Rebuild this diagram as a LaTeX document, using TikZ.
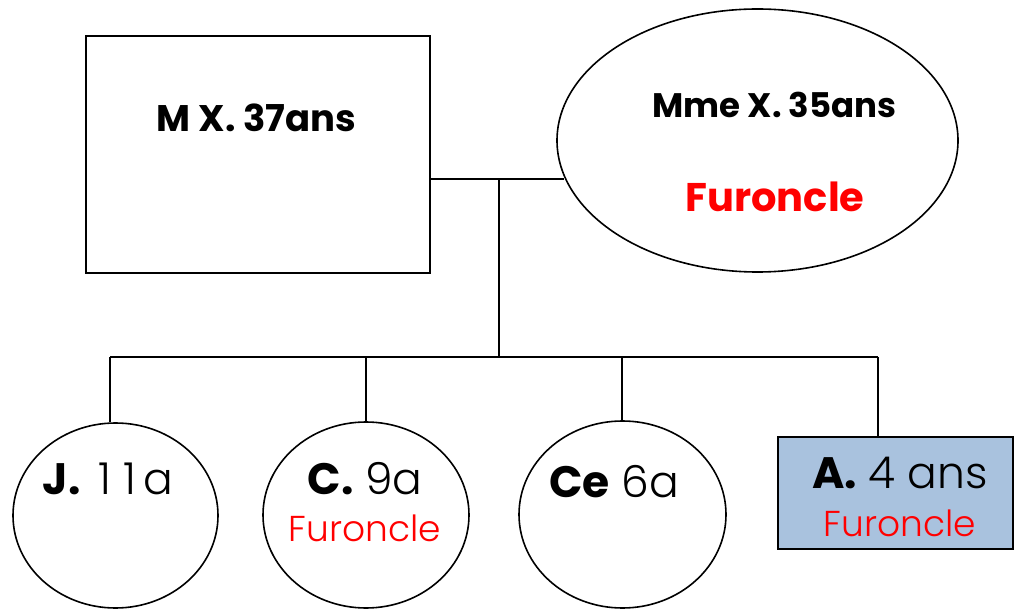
\documentclass[tikz,border=0pt]{standalone}
\usepackage{fontspec}
\setmainfont{Poppins}
\newfontfamily\lightface{Poppins Light}
\usetikzlibrary{shapes.geometric}
\definecolor{furred}{RGB}{255,0,0}
\definecolor{cellblue}{RGB}{169,194,222}
\tikzset{
  conn/.style={draw=black, line width=1.6pt},
  boxshape/.style={draw=black, line width=1.6pt, rectangle, inner sep=0pt},
  ovalshape/.style={draw=black, line width=1.6pt, ellipse, inner sep=0pt},
  lbl/.style={anchor=base, inner sep=0pt},
}
\begin{document}
\begin{tikzpicture}[x=1pt,y=-1pt]
\useasboundingbox (0,0) rectangle (1015,609);
% parents
\node[boxshape, minimum width=344pt, minimum height=237pt] (father) at (258,154.5) {};
\node[ovalshape, minimum width=401pt, minimum height=263pt] (mother) at (757.5,140.5) {};
\node[lbl, font=\fontsize{37}{40}\selectfont\bfseries] (ftext) at (256.5,132) {M X. 37ans};
\node[lbl, font=\fontsize{34}{36}\selectfont\bfseries] (mtext) at (774.5,118) {Mme X. 35ans};
\node[lbl, font=\fontsize{40}{42}\selectfont\bfseries, text=furred] (mfur) at (775,212) {Furoncle};
% children
\node[ovalshape, minimum width=205pt, minimum height=185pt] (J) at (115.5,515.5) {};
\node[ovalshape, minimum width=206pt, minimum height=186pt] (C) at (366,515) {};
\node[ovalshape, minimum width=207pt, minimum height=187pt] (Ce) at (622.5,514.5) {};
\node[boxshape, fill=cellblue, minimum width=235pt, minimum height=112pt] (A) at (895.5,493) {};
\node[lbl, font=\fontsize{44}{46}\selectfont] (jtext) at (108,494) {\textbf{J.}\hspace{18pt}{\lightface 1\hspace{12pt}1\hspace{7pt}a}};
\node[lbl, font=\fontsize{44}{46}\selectfont] (ctext) at (365,494) {\textbf{C.} {\lightface 9a}};
\node[lbl, font=\fontsize{36}{38}\selectfont\lightface, text=furred] (cfur) at (365,541) {Furoncle};
\node[lbl, font=\fontsize{44}{46}\selectfont] (cetext) at (614,497) {\textbf{Ce} {\lightface 6a}};
\node[lbl, font=\fontsize{44}{46}\selectfont] (atext) at (900,488) {\textbf{A.} {\lightface 4 ans}};
\node[lbl, font=\fontsize{36}{38}\selectfont\lightface, text=furred] (afur) at (900,536) {Furoncle};
% connectors
\coordinate (m) at (499,179);
\coordinate (mm) at (564,179);
\coordinate (sib) at (499,357);
\coordinate (s1) at (110,357);
\coordinate (s2) at (366,357);
\coordinate (s3) at (622,357);
\coordinate (s4) at (878,357);
\draw[conn] (father.east |- m) -- (mm);
\draw[conn] (m) -- (sib);
\draw[conn] (s1) -- (s4);
\draw[conn] (s1) -- (s1 |- J.north);
\draw[conn] (s2) -- (C.north);
\draw[conn] (s3) -- (s3 |- Ce.north);
\draw[conn] (s4) -- (s4 |- A.north);
\end{tikzpicture}
\end{document}
